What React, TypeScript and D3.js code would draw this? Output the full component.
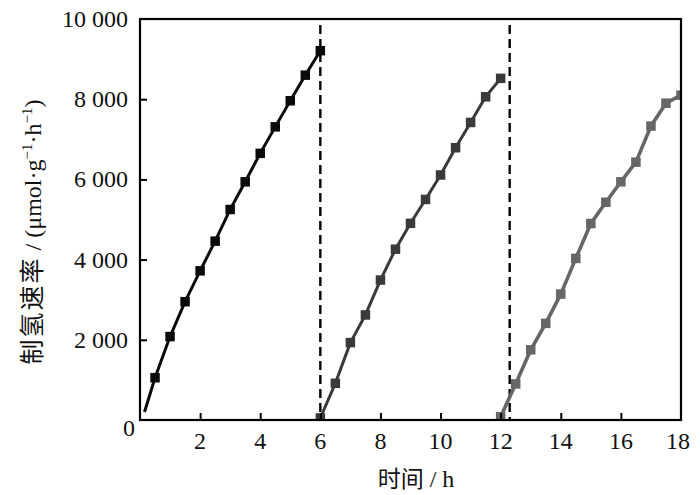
import { useEffect, useRef } from 'react'
import * as d3 from 'd3'

// time (h) and H2 evolution (µmol·g⁻¹·h⁻¹)
const CYCLE1_X = [0.15, 0.5, 1, 1.5, 2, 2.5, 3, 3.5, 4, 4.5, 5, 5.5, 6]
const CYCLE1_Y = [200, 1055, 2080, 2950, 3720, 4460, 5250, 5940, 6650, 7310, 7960, 8600, 9210]
const CYCLE2_X = [6, 6.5, 7, 7.5, 8, 8.5, 9, 9.5, 10, 10.5, 11, 11.5, 12]
const CYCLE2_Y = [50, 915, 1930, 2620, 3490, 4260, 4905, 5500, 6110, 6790, 7420, 8060, 8520]
const CYCLE3_X = [12, 12.5, 13, 13.5, 14, 14.5, 15, 15.5, 16, 16.5, 17, 17.5, 18]
const CYCLE3_Y = [80, 900, 1750, 2410, 3140, 4030, 4900, 5430, 5940, 6430, 7330, 7900, 8100]
const CYCLE_COLORS = ['#0a0a0a', '#3a3a3a', '#666666']
// first point of cycle 1 is only the line start (no marker)
const CYCLE_MARKER_FROM = [1, 0, 0]
const DIVIDERS = [6, 12.3]
const X_TICKS = [2, 4, 6, 8, 10, 12, 14, 16, 18]
const Y_TICKS = [0, 2000, 4000, 6000, 8000, 10000]

const FONT = "'Liberation Serif', 'DejaVu Serif', serif"
const CJK = "'Noto Sans CJK SC', sans-serif"

export default function App() {
  const svgRef = useRef<SVGSVGElement>(null)

  useEffect(() => {
    document.body.style.margin = '0'
    if (!svgRef.current) return
    const W = 700, H = 495
    const m = { top: 19, right: 19, bottom: 75, left: 140 }
    const iW = W - m.left - m.right
    const iH = H - m.top - m.bottom

    const svg = d3.select(svgRef.current)
    svg.selectAll('*').remove()
    const g = svg.append('g').attr('transform', `translate(${m.left},${m.top})`)

    const x = d3.scaleLinear().domain([0, 18]).range([0, iW])
    const y = d3.scaleLinear().domain([0, 10000]).range([iH, 0])
    const fmt = (v: number) => d3.format(',')(v).replace(/,/g, ' ')

    // clip so the last cycle stops at the frame
    svg.append('defs').append('clipPath').attr('id', 'plot-clip')
      .append('rect').attr('width', iW).attr('height', iH)

    // dashed cycle dividers
    DIVIDERS.forEach(d => {
      g.append('line')
        .attr('x1', x(d)).attr('x2', x(d))
        .attr('y1', 6).attr('y2', iH)
        .attr('stroke', '#000').attr('stroke-width', 2.4)
        .attr('stroke-dasharray', '9,5')
    })

    const cycles = [
      { xs: CYCLE1_X, ys: CYCLE1_Y },
      { xs: CYCLE2_X, ys: CYCLE2_Y },
      { xs: CYCLE3_X, ys: CYCLE3_Y },
    ]
    const line = d3.line<[number, number]>().x(d => x(d[0])).y(d => y(d[1]))
    const plot = g.append('g').attr('clip-path', 'url(#plot-clip)')

    cycles.forEach((c, i) => {
      const pts = c.xs.map((v, j) => [v, c.ys[j]] as [number, number])
      plot.append('path')
        .attr('d', line(pts))
        .attr('fill', 'none')
        .attr('stroke', CYCLE_COLORS[i])
        .attr('stroke-width', i === 2 ? 3.6 : 3)
        .attr('stroke-linejoin', 'round')
      const s = 9.5
      plot.selectAll(`rect.m${i}`)
        .data(pts.slice(CYCLE_MARKER_FROM[i]))
        .enter().append('rect')
        .attr('class', `m${i}`)
        .attr('x', d => x(d[0]) - s / 2)
        .attr('y', d => y(d[1]) - s / 2)
        .attr('width', s).attr('height', s)
        .attr('fill', CYCLE_COLORS[i])
    })

    // frame
    g.append('rect')
      .attr('width', iW).attr('height', iH)
      .attr('fill', 'none').attr('stroke', '#000').attr('stroke-width', 2.2)

    // inward ticks
    g.append('g').attr('transform', `translate(0,${iH})`)
      .call(d3.axisBottom(x).tickValues(X_TICKS.slice(0, -1)).tickSize(-7).tickFormat(() => ''))
      .call(a => a.select('.domain').remove())
      .selectAll('line').attr('stroke', '#000').attr('stroke-width', 2)
    g.append('g')
      .call(d3.axisLeft(y).tickValues(Y_TICKS.slice(1, -1)).tickSize(-7).tickFormat(() => ''))
      .call(a => a.select('.domain').remove())
      .selectAll('line').attr('stroke', '#000').attr('stroke-width', 2)

    // tick labels
    g.selectAll('text.xt').data(X_TICKS).enter().append('text')
      .attr('class', 'xt')
      .attr('x', d => x(d) - (d === 18 ? 3 : 0)).attr('y', iH + 29)
      .attr('text-anchor', 'middle')
      .attr('font-family', FONT).attr('font-size', 24).attr('fill', '#111')
      .text(d => String(d))
    g.selectAll('text.yt').data(Y_TICKS).enter().append('text')
      .attr('class', 'yt')
      .attr('x', d => (d === 0 ? -5 : -12)).attr('y', d => y(d) + (d === 0 ? 16 : 8))
      .attr('text-anchor', 'end')
      .attr('font-family', FONT).attr('font-size', 24).attr('fill', '#111')
      .text(d => fmt(d))

    // axis titles
    const xt = svg.append('text')
      .attr('x', 416).attr('y', 487)
      .attr('text-anchor', 'middle')
      .attr('font-family', FONT).attr('font-size', 24).attr('fill', '#111')
    xt.append('tspan').attr('font-family', CJK).attr('font-size', 23).text('时间')
    xt.append('tspan').text(' / h')

    const yt = svg.append('text')
      .attr('transform', 'translate(41,232) rotate(-90)')
      .attr('text-anchor', 'middle')
      .attr('font-family', FONT).attr('font-size', 24).attr('fill', '#111')
    yt.append('tspan').attr('font-family', CJK).attr('font-size', 25)
      .attr('letter-spacing', 2).text('制氢速率')
    yt.append('tspan').text(' / (μmol·g')
    yt.append('tspan').attr('font-size', 15).attr('dy', -9).text('−1')
    yt.append('tspan').attr('dy', 9).text('·h')
    yt.append('tspan').attr('font-size', 15).attr('dy', -9).text('−1')
    yt.append('tspan').attr('dy', 9).text(')')

    return () => { svg.selectAll('*').remove() }
  }, [])

  return (
    <svg ref={svgRef} width={700} height={495} style={{ display: 'block', background: '#fff' }} />
  )
}
